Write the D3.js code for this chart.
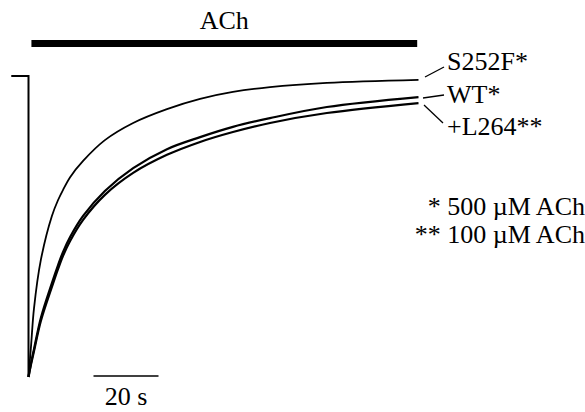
<!DOCTYPE html>
<html>
<head>
<meta charset="utf-8">
<script src="https://cdn.jsdelivr.net/npm/d3@7"></script>
<style>
    html, body { margin: 0; padding: 0; background: #fff; }
    svg { display: block; }
    text { font-family: "Liberation Serif", "Times New Roman", serif; fill: #000; }
</style>
</head>
<body>
<div id="chart"></div>
<script>
// time after ACh onset (s)
const time = [0, 0.8, 1.7, 3.8, 7.2, 9.1, 10.6, 12.8, 16.8, 23.5, 32.2, 42.6, 52.8, 62.9, 74.3, 91.8, 120];

// normalized current (peak = -1)
const s252f = [-1, -0.894, -0.771, -0.611, -0.465, -0.412, -0.379, -0.336, -0.282, -0.213, -0.156, -0.110, -0.076, -0.053, -0.037, -0.023, -0.013];
const wt    = [-1, -0.953, -0.907, -0.804, -0.688, -0.628, -0.585, -0.535, -0.465, -0.382, -0.306, -0.243, -0.203, -0.169, -0.140, -0.103, -0.070];
const l264  = [-1, -0.957, -0.914, -0.814, -0.701, -0.641, -0.598, -0.548, -0.478, -0.395, -0.322, -0.262, -0.219, -0.186, -0.156, -0.123, -0.090];

const seriesNames = ["S252F*", "WT*", "+L264**"];
const holding = [-5.3, 0];           // pre-application baseline (s)
const achApplication = [0.9, 119.6]; // ACh bar (s)
const scaleBar = [20, 40];           // 20 s scale bar
const notes = ["* 500 \u00b5M ACh", "** 100 \u00b5M ACh"];

let width = 585, height = 412;

let x = d3.scaleLinear().domain([0, 20]).range([28.5, 93.5]);
let y = d3.scaleLinear().domain([-1, 0]).range([377, 76]);

let svg = d3.select("#chart").append("svg")
    .attr("width", width)
    .attr("height", height);

svg.append("rect")
    .attr("width", width)
    .attr("height", height)
    .attr("fill", "#fff");

// ACh application bar
svg.append("line")
    .attr("x1", x(achApplication[0]))
    .attr("x2", x(achApplication[1]))
    .attr("y1", 43.5)
    .attr("y2", 43.5)
    .attr("stroke", "#000")
    .attr("stroke-width", 7);

svg.append("text")
    .attr("x", x((achApplication[0] + achApplication[1]) / 2))
    .attr("y", 29)
    .attr("text-anchor", "middle")
    .style("font-size", "26px")
    .text("ACh");

// holding current + jump to peak
let step = d3.line()
    .x(d => x(d[0]))
    .y(d => y(d[1]));

svg.append("path")
    .attr("d", step([[holding[0], holding[1]], [0, 0], [0, -1]]))
    .attr("fill", "none")
    .attr("stroke", "#000")
    .attr("stroke-width", 2);

// desensitizing traces
let trace = d3.line()
    .x(d => x(d[0]))
    .y(d => y(d[1]))
    .curve(d3.curveCatmullRom.alpha(0.5));

let traces = [
    { name: seriesNames[0], values: s252f, width: 1.8 },
    { name: seriesNames[1], values: wt, width: 2.2 },
    { name: seriesNames[2], values: l264, width: 2.2 }
];

svg.selectAll("path.trace")
    .data(traces)
    .enter()
    .append("path")
    .attr("class", "trace")
    .attr("d", d => trace(time.map((t, i) => [t, d.values[i]])))
    .attr("fill", "none")
    .attr("stroke", "#000")
    .attr("stroke-width", d => d.width)
    .attr("stroke-linejoin", "round");

// labels with leader lines
let labelPos = [
    { lx: 447, ly: 70, from: [425, 77], to: [444, 67] },
    { lx: 447, ly: 103, from: [423, 98], to: [444, 95] },
    { lx: 447, ly: 135, from: [424, 105], to: [443, 123] }
];

svg.selectAll("line.leader")
    .data(labelPos)
    .enter()
    .append("line")
    .attr("class", "leader")
    .attr("x1", d => d.from[0])
    .attr("y1", d => d.from[1])
    .attr("x2", d => d.to[0])
    .attr("y2", d => d.to[1])
    .attr("stroke", "#000")
    .attr("stroke-width", 1.3);

svg.selectAll("text.label")
    .data(traces)
    .enter()
    .append("text")
    .attr("class", "label")
    .attr("x", (d, i) => labelPos[i].lx)
    .attr("y", (d, i) => labelPos[i].ly)
    .style("font-size", "26px")
    .text(d => d.name);

// concentration notes
svg.selectAll("text.note")
    .data(notes)
    .enter()
    .append("text")
    .attr("class", "note")
    .attr("x", 585)
    .attr("y", (d, i) => 215 + i * 28)
    .attr("text-anchor", "end")
    .style("font-size", "26px")
    .text(d => d);

// time scale bar
svg.append("line")
    .attr("x1", x(scaleBar[0]))
    .attr("x2", x(scaleBar[1]))
    .attr("y1", 376)
    .attr("y2", 376)
    .attr("stroke", "#000")
    .attr("stroke-width", 1.5);

svg.append("text")
    .attr("x", x((scaleBar[0] + scaleBar[1]) / 2))
    .attr("y", 405)
    .attr("text-anchor", "middle")
    .style("font-size", "26px")
    .text((scaleBar[1] - scaleBar[0]) + " s");
</script>
</body>
</html>
